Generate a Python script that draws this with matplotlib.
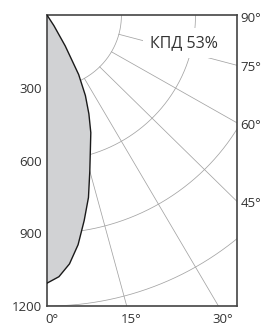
import numpy as np
import matplotlib.pyplot as plt

# --- Data (luminous intensity curve) ---
angles_deg = [0, 2.5, 5, 7.5, 10, 12.5, 15, 17.5, 20, 22.5, 25, 27.5, 30, 32.5, 35, 90]
intensity = [1105, 1080, 1030, 955, 860, 770, 665, 580, 515, 440, 365, 275, 145, 50, 0, 0]

radial_ticks = [300, 600, 900, 1200]
grid_angles = [15, 30, 45, 60, 75]
bottom_labels = [0, 15, 30]
right_labels = [45, 60, 75, 90]
efficiency_label = "КПД 53%"

plt.rcParams['font.family'] = ['Open Sans', 'DejaVu Sans']
text_color = '#333333'
grid_color = '#a3a3a3'

fig = plt.figure(figsize=(2.64, 3.27), dpi=100)
ax = fig.add_axes([47.3 / 264, 21 / 327, 189.2 / 264, 290.5 / 327])

x_max = 766
r_max = 1200
ax.set_xlim(0, x_max)
ax.set_ylim(-r_max, 0)

# --- Grid: arcs and radial lines ---
t = np.radians(np.linspace(0, 90, 300))
for r in radial_ticks:
    ax.plot(r * np.sin(t), -r * np.cos(t), color=grid_color, lw=0.55, zorder=1)
for a in grid_angles:
    th = np.radians(a)
    ax.plot([300 * np.sin(th), 2000 * np.sin(th)],
            [-300 * np.cos(th), -2000 * np.cos(th)],
            color=grid_color, lw=0.55, zorder=1)

# --- Intensity curve ---
th = np.radians(angles_deg)
cx = np.array(intensity) * np.sin(th)
cy = -np.array(intensity) * np.cos(th)
ax.fill(np.r_[0, cx, 0], np.r_[0, cy, 0], color='#d1d2d4', zorder=2, lw=0)
ax.plot(cx, cy, color='#1a1a1a', lw=1.0, zorder=3)

# --- Frame and ticks ---
for s in ax.spines.values():
    s.set_color('#444444')
    s.set_linewidth(1.2)
ax.set_xticks([])
ax.set_yticks([-r for r in radial_ticks])
ax.set_yticklabels([str(r) for r in radial_ticks], fontsize=9.5, color=text_color)
ax.tick_params(axis='y', length=0, pad=4)

for a in bottom_labels:
    xb = r_max * np.tan(np.radians(a))
    ax.annotate(f"{a}°", (xb, -r_max), xytext=(3, -5), textcoords='offset points',
                ha='center', va='top', fontsize=9.5, color=text_color,
                annotation_clip=False)
for a in right_labels:
    yb = -x_max / np.tan(np.radians(a)) if a < 90 else 0
    ax.annotate(f"{a}°", (x_max, yb), xytext=(3, -2), textcoords='offset points',
                ha='left', va='center', fontsize=9.5, color=text_color,
                annotation_clip=False)

ax.text(0.72, 0.905, efficiency_label, transform=ax.transAxes, ha='center', va='center',
        fontsize=11.5, color=text_color, zorder=4,
        bbox=dict(facecolor='white', edgecolor='none', pad=5))

fig.savefig('out.png', dpi=100)
